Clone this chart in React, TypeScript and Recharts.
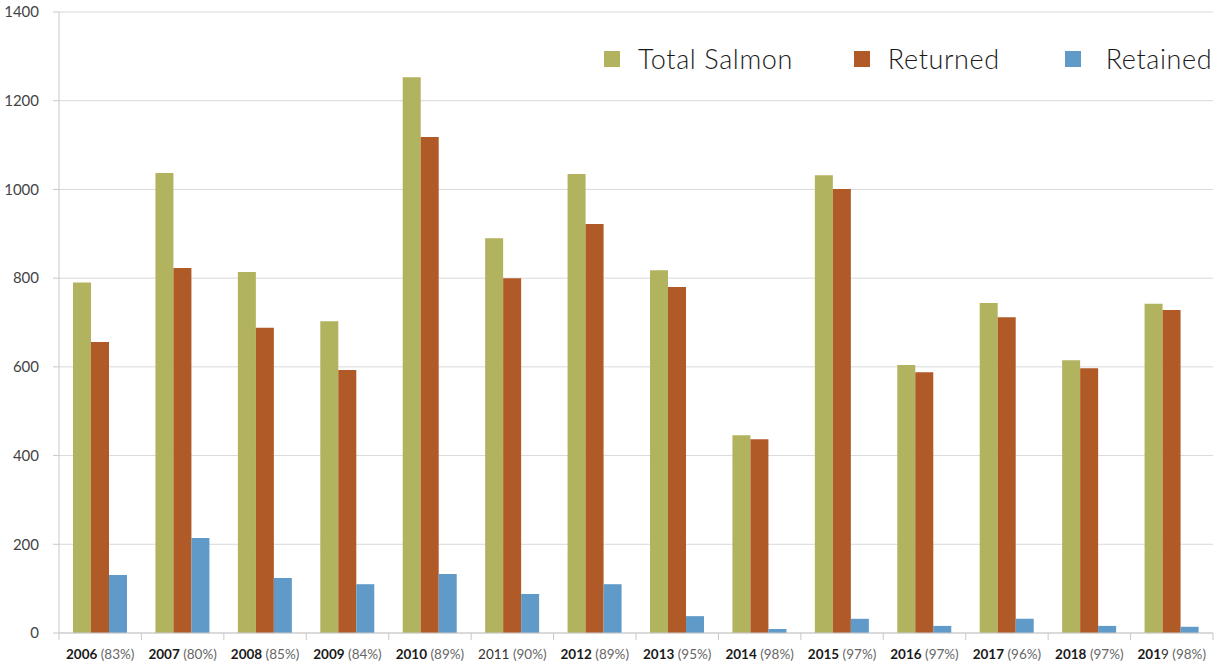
import { Bar, BarChart, CartesianGrid, XAxis, YAxis } from "recharts"

// Salmon catch-and-release by year
const years = ["2006", "2007", "2008", "2009", "2010", "2011", "2012", "2013", "2014", "2015", "2016", "2017", "2018", "2019"]
const returnRates = ["83%", "80%", "85%", "84%", "89%", "90%", "89%", "95%", "98%", "97%", "97%", "96%", "97%", "98%"]
// how many leading characters of each year label are set in bold
const boldChars = [4, 4, 4, 4, 4, 0, 4, 4, 4, 4, 4, 4, 4, 3]

const totalSalmon = [790, 1037, 814, 703, 1253, 890, 1035, 818, 446, 1032, 604, 744, 615, 742]
const returned = [656, 823, 688, 593, 1118, 800, 922, 780, 437, 1001, 588, 712, 597, 728]
const retained = [131, 214, 124, 110, 133, 88, 110, 38, 9, 32, 16, 32, 16, 14]

const yTicks = [0, 200, 400, 600, 800, 1000, 1200, 1400]

const series = [
  { key: "total", name: "Total Salmon", color: "#B2B35E" },
  { key: "returned", name: "Returned", color: "#B05A28" },
  { key: "retained", name: "Retained", color: "#5F9AC8" },
]

const data = years.map((year, i) => ({
  year,
  rate: returnRates[i],
  total: totalSalmon[i],
  returned: returned[i],
  retained: retained[i],
}))

const FONT = "Lato, 'Open Sans', sans-serif"
const AXIS = "#c8c8c8"

function YearTick(props: any) {
  const { x, y, payload, index } = props
  const i = payload?.index ?? index
  const half = payload?.offset ?? 0
  const year = years[i]
  const n = boldChars[i]
  return (
    <g>
      <line x1={x - half} x2={x - half} y1={y} y2={y + 7} stroke={AXIS} />
      {i === years.length - 1 && <line x1={x + half} x2={x + half} y1={y} y2={y + 7} stroke={AXIS} />}
      <text x={x} y={y + 26} textAnchor="middle" fontFamily={FONT} fontSize={13.5}>
        <tspan fontWeight={700} fill="#1a1a1a">{year.slice(0, n)}</tspan>
        <tspan fontWeight={400} fill="#333">{year.slice(n)}</tspan>
        <tspan fill="#666" fontWeight={400}>{` (${data[i].rate})`}</tspan>
      </text>
    </g>
  )
}

// legend sits over the top-right of the plot, outside the chart's layout
function SalmonLegend() {
  const gaps = [0, 61, 65]
  const textGaps = [18, 18, 25]
  return (
    <div
      style={{
        position: "absolute",
        left: 604,
        top: 42,
        display: "flex",
        alignItems: "center",
        fontFamily: FONT,
        pointerEvents: "none",
      }}
    >
      {series.map((s, i) => (
        <div key={s.key} style={{ display: "flex", alignItems: "center", marginLeft: gaps[i] }}>
          <span style={{ width: 16, height: 16, background: s.color, display: "inline-block" }} />
          <span style={{ marginLeft: textGaps[i], fontSize: 27, fontWeight: 300, color: "#1a1a1a", letterSpacing: 0.6 }}>
            {s.name}
          </span>
        </div>
      ))}
    </div>
  )
}

export default function App() {
  return (
    <div style={{ position: "absolute", left: 0, top: 0, width: 1216, height: 664, background: "#fff" }}>
      <BarChart
        width={1216}
        height={664}
        data={data}
        margin={{ top: 12, right: 3, bottom: 0, left: 0 }}
        barGap={0}
        barCategoryGap={14}
      >
        <CartesianGrid vertical={false} stroke="#d9d9d9" />
        <XAxis
          dataKey="year"
          height={31}
          axisLine={{ stroke: AXIS }}
          tickLine={false}
          tickSize={0}
          tickMargin={0}
          interval={0}
          tick={<YearTick />}
        />
        <YAxis
          width={59}
          domain={[0, 1400]}
          ticks={yTicks}
          axisLine={{ stroke: AXIS }}
          tickLine={{ stroke: AXIS }}
          tickSize={6}
          tickMargin={14}
          tick={{ fontSize: 15, fill: "#444", fontFamily: FONT }}
        />
        {series.map((s) => (
          <Bar key={s.key} dataKey={s.key} name={s.name} fill={s.color} isAnimationActive={false} />
        ))}
      </BarChart>
      <SalmonLegend />
    </div>
  )
}
